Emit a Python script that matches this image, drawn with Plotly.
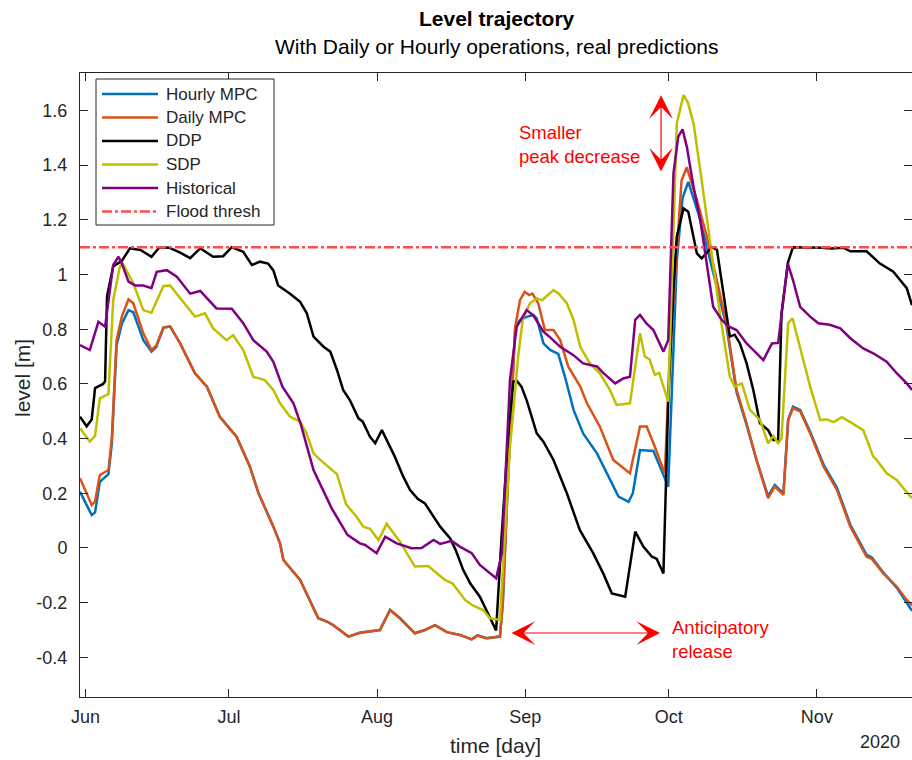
import pandas as pd
import plotly.graph_objects as go

BASE = pd.Timestamp("2020-06-01")

# ---- data: (day offset from 1 Jun 2020, level [m]) ----
hourly_days = [-1.15, 1.3, 2.0, 3.0, 4.8, 5.5, 6.5, 7.6, 9.0, 10.0, 12.1, 13.8, 14.8, 16.3, 17.7, 19.8, 22.9, 25.4, 28.1, 31.6, 34.4, 36.2, 39.3, 40.7, 41.4, 44.9, 48.7, 50.5, 51.8, 55.0, 57.4, 59.2, 61.6, 63.7, 65.8, 68.9, 71.0, 73.1, 75.6, 78.3, 80.8, 82.0, 83.9, 86.7, 87.3, 88.5, 89.9, 90.9, 92.3, 93.7, 94.4, 95.8, 97.2, 98.9, 100.3, 102.1, 104.1, 107.0, 109.7, 111.5, 113.6, 114.5, 116.0, 117.5, 118.8, 120.2, 121.9, 123.7, 124.9, 126.1, 128.2, 130.0, 132.0, 134.1, 136.2, 138.3, 140.4, 142.8, 144.2, 146.0, 147.0, 148.0, 149.5, 151.6, 154.4, 157.2, 160.0, 163.4, 164.5, 166.9, 169.7, 171.8, 172.9]
hourly_mpc = [0.206, 0.12, 0.13, 0.242, 0.27, 0.38, 0.74, 0.82, 0.87, 0.862, 0.76, 0.718, 0.735, 0.805, 0.81, 0.748, 0.639, 0.59, 0.48, 0.407, 0.297, 0.20, 0.078, 0.017, -0.044, -0.117, -0.257, -0.269, -0.282, -0.324, -0.31, -0.306, -0.30, -0.227, -0.257, -0.312, -0.30, -0.282, -0.308, -0.318, -0.334, -0.32, -0.33, -0.324, -0.2, 0.3, 0.809, 0.834, 0.845, 0.852, 0.84, 0.748, 0.724, 0.71, 0.626, 0.505, 0.419, 0.346, 0.249, 0.188, 0.169, 0.20, 0.358, 0.355, 0.355, 0.297, 0.224, 1.05, 1.28, 1.339, 1.224, 1.10, 0.955, 0.81, 0.57, 0.45, 0.32, 0.19, 0.23, 0.20, 0.47, 0.517, 0.505, 0.425, 0.305, 0.22, 0.085, -0.025, -0.035, -0.09, -0.145, -0.20, -0.23]

daily_days = [-1.15, 1.3, 2.0, 3.0, 4.8, 5.5, 6.5, 7.6, 9.0, 10.0, 12.1, 13.8, 14.8, 16.3, 17.7, 19.8, 22.9, 25.4, 28.1, 31.6, 34.4, 36.2, 39.3, 40.7, 41.4, 44.9, 48.7, 50.5, 51.8, 55.0, 57.4, 59.2, 61.6, 63.7, 65.8, 68.9, 71.0, 73.1, 75.6, 78.3, 80.8, 82.0, 83.9, 86.7, 87.3, 88.5, 89.9, 90.9, 91.9, 92.8, 93.5, 94.7, 96.1, 97.9, 99.3, 101.0, 103.5, 104.9, 107.6, 110.4, 112.5, 113.9, 116.0, 117.4, 119.1, 121.2, 122.2, 123.7, 124.7, 125.8, 127.9, 130.0, 132.0, 134.1, 136.2, 138.3, 140.4, 142.8, 144.2, 146.0, 147.0, 148.0, 149.5, 151.6, 154.4, 157.2, 160.0, 163.4, 164.5, 166.9, 169.7, 171.8, 172.9]
daily_mpc = [0.255, 0.157, 0.17, 0.267, 0.285, 0.40, 0.76, 0.846, 0.909, 0.895, 0.785, 0.724, 0.74, 0.807, 0.81, 0.748, 0.639, 0.59, 0.48, 0.407, 0.297, 0.20, 0.078, 0.017, -0.044, -0.117, -0.257, -0.269, -0.282, -0.324, -0.31, -0.306, -0.30, -0.227, -0.257, -0.312, -0.30, -0.282, -0.308, -0.318, -0.334, -0.32, -0.33, -0.324, -0.2, 0.3, 0.809, 0.907, 0.937, 0.925, 0.93, 0.895, 0.797, 0.797, 0.76, 0.663, 0.59, 0.529, 0.444, 0.322, 0.291, 0.273, 0.444, 0.444, 0.37, 0.273, 0.70, 1.10, 1.345, 1.392, 1.272, 1.138, 0.98, 0.822, 0.578, 0.456, 0.32, 0.182, 0.224, 0.194, 0.468, 0.511, 0.50, 0.419, 0.297, 0.212, 0.078, -0.032, -0.04, -0.093, -0.141, -0.19, -0.21]

ddp_days = [-1.15, 0.25, 1.3, 2.0, 3.7, 4.1, 4.5, 5.8, 7.6, 9.3, 11.5, 13.8, 15.5, 17.5, 19.8, 21.9, 24.0, 26.7, 28.8, 30.6, 33.0, 34.8, 36.5, 38.2, 39.3, 40.3, 42.8, 44.9, 46.3, 47.7, 49.8, 51.2, 52.6, 53.9, 55.3, 57.1, 58.0, 59.5, 60.6, 62.0, 64.7, 66.5, 67.9, 69.5, 71.0, 72.5, 74.2, 76.3, 77.5, 79.0, 80.5, 82.5, 84.5, 85.9, 87.0, 88.6, 89.5, 90.2, 91.2, 92.3, 94.4, 95.8, 97.9, 100.7, 103.4, 106.2, 108.3, 110.1, 112.9, 115.0, 116.7, 118.5, 119.5, 120.9, 121.9, 123.0, 123.7, 125.1, 126.1, 127.9, 128.9, 129.9, 131.0, 132.1, 133.5, 134.8, 135.8, 136.9, 138.3, 139.7, 141.1, 142.8, 143.9, 144.9, 145.6, 147.0, 148.0, 151.0, 154.0, 156.0, 158.5, 160.0, 163.4, 166.2, 169.0, 170.4, 171.8, 172.9]
ddp = [0.48, 0.445, 0.47, 0.585, 0.60, 0.61, 0.92, 1.03, 1.05, 1.096, 1.09, 1.065, 1.10, 1.098, 1.08, 1.06, 1.096, 1.065, 1.067, 1.10, 1.083, 1.035, 1.047, 1.04, 1.015, 0.96, 0.93, 0.90, 0.858, 0.773, 0.736, 0.718, 0.651, 0.578, 0.541, 0.474, 0.462, 0.407, 0.383, 0.431, 0.334, 0.26, 0.212, 0.18, 0.163, 0.125, 0.078, 0.035, -0.01, -0.08, -0.13, -0.178, -0.25, -0.302, 0.03, 0.45, 0.608, 0.612, 0.59, 0.54, 0.419, 0.389, 0.322, 0.20, 0.066, -0.019, -0.093, -0.166, -0.178, 0.06, 0.005, -0.032, -0.04, -0.093, 0.529, 0.95, 1.138, 1.242, 1.23, 1.077, 1.059, 1.077, 1.10, 1.09, 0.92, 0.773, 0.78, 0.748, 0.675, 0.578, 0.456, 0.431, 0.395, 0.395, 0.858, 1.047, 1.10, 1.10, 1.098, 1.095, 1.098, 1.085, 1.085, 1.04, 1.01, 0.98, 0.95, 0.888]

sdp_days = [-1.15, 0.9, 2.0, 3.0, 4.8, 5.8, 7.2, 7.8, 10.0, 12.1, 13.8, 14.8, 16.3, 17.7, 19.8, 22.9, 25.0, 26.7, 29.5, 30.9, 33.0, 35.1, 37.5, 39.3, 40.7, 42.8, 44.9, 46.2, 47.7, 49.1, 52.6, 54.5, 56.7, 58.1, 59.5, 61.3, 63.0, 65.8, 68.9, 71.7, 75.2, 76.8, 79.4, 81.0, 83.2, 84.6, 86.7, 88.8, 89.5, 90.5, 91.5, 93.0, 94.4, 95.5, 97.9, 99.0, 100.7, 102.1, 103.5, 105.5, 107.6, 109.7, 111.1, 113.9, 116.0, 117.0, 118.0, 119.1, 120.0, 121.9, 123.7, 125.1, 126.0, 127.2, 128.9, 130.6, 132.7, 134.8, 135.8, 137.3, 139.0, 141.1, 142.8, 143.9, 144.9, 145.6, 147.0, 147.9, 149.5, 151.6, 153.7, 155.1, 156.5, 158.2, 160.0, 162.7, 164.8, 165.5, 167.6, 169.7, 171.4, 172.9]
sdp = [0.438, 0.389, 0.41, 0.547, 0.563, 0.907, 1.029, 1.04, 0.968, 0.87, 0.86, 0.90, 0.958, 0.96, 0.913, 0.846, 0.858, 0.803, 0.76, 0.778, 0.724, 0.626, 0.614, 0.578, 0.529, 0.48, 0.462, 0.42, 0.346, 0.322, 0.27, 0.16, 0.114, 0.078, 0.07, 0.029, 0.088, 0.023, -0.068, -0.066, -0.117, -0.13, -0.19, -0.21, -0.227, -0.257, -0.263, 0.37, 0.50, 0.70, 0.84, 0.895, 0.913, 0.906, 0.943, 0.93, 0.895, 0.834, 0.736, 0.675, 0.639, 0.578, 0.523, 0.529, 0.785, 0.70, 0.69, 0.633, 0.64, 0.535, 1.553, 1.656, 1.63, 1.553, 1.345, 1.126, 0.858, 0.626, 0.59, 0.602, 0.505, 0.468, 0.383, 0.41, 0.383, 0.40, 0.822, 0.84, 0.736, 0.59, 0.468, 0.47, 0.46, 0.478, 0.46, 0.431, 0.334, 0.322, 0.273, 0.249, 0.212, 0.182]

hist_days = [-1.15, 0.9, 2.7, 4.1, 5.8, 6.9, 7.6, 9.0, 10.4, 12.1, 13.8, 14.9, 17.0, 19.1, 21.9, 24.0, 27.4, 30.6, 33.0, 35.1, 37.9, 39.3, 41.2, 43.5, 45.0, 47.7, 51.5, 54.8, 57.4, 58.5, 60.9, 62.7, 65.1, 68.2, 70.3, 72.8, 74.2, 76.6, 78.3, 80.8, 82.5, 85.9, 87.1, 88.8, 90.2, 92.3, 93.7, 95.8, 97.2, 99.3, 102.0, 104.1, 107.0, 108.3, 110.8, 112.5, 113.9, 115.0, 116.0, 117.4, 118.8, 120.9, 121.9, 123.0, 124.0, 124.9, 125.8, 127.2, 128.6, 130.0, 131.3, 133.1, 134.5, 136.2, 138.3, 140.4, 141.8, 143.6, 144.9, 146.9, 148.0, 149.5, 151.6, 153.3, 155.7, 157.9, 160.0, 162.7, 164.8, 167.6, 169.7, 171.8, 172.9]
historical = [0.742, 0.724, 0.827, 0.809, 1.035, 1.065, 1.04, 0.974, 0.96, 0.96, 0.95, 1.01, 1.016, 0.992, 0.93, 0.94, 0.876, 0.875, 0.822, 0.76, 0.718, 0.681, 0.59, 0.529, 0.455, 0.285, 0.145, 0.048, 0.017, 0.011, -0.019, 0.041, 0.017, -0.001, 0.0, 0.029, 0.015, 0.026, 0.005, -0.019, -0.062, -0.111, -0.02, 0.614, 0.809, 0.87, 0.85, 0.791, 0.77, 0.736, 0.706, 0.675, 0.664, 0.64, 0.602, 0.62, 0.626, 0.834, 0.852, 0.82, 0.797, 0.718, 0.76, 1.37, 1.504, 1.531, 1.467, 1.321, 1.2, 1.041, 0.882, 0.834, 0.81, 0.797, 0.748, 0.712, 0.687, 0.748, 0.75, 1.041, 0.98, 0.882, 0.846, 0.822, 0.816, 0.803, 0.767, 0.73, 0.712, 0.681, 0.639, 0.602, 0.578]

flood_days = [-1.15, 172.9]
flood_thresh = [1.10, 1.10]

series_names = ["Hourly MPC", "Daily MPC", "DDP", "SDP", "Historical", "Flood thresh"]
month_ticks = ["2020-06-01", "2020-07-01", "2020-08-01", "2020-09-01", "2020-10-01", "2020-11-01"]
month_labels = ["Jun", "Jul", "Aug", "Sep", "Oct", "Nov"]
y_ticks = [-0.4, -0.2, 0, 0.2, 0.4, 0.6, 0.8, 1.0, 1.2, 1.4, 1.6]
y_labels = ["-0.4", "-0.2", "0", "0.2", "0.4", "0.6", "0.8", "1", "1.2", "1.4", "1.6"]


def to_dates(days):
    return BASE + pd.to_timedelta(days, unit="D")


FONT = "Liberation Sans, Arial, Helvetica, sans-serif"
AX = "#262626"
colors = ["#0072BD", "#D95319", "#000000", "#BFBF00", "#800080", "#FF4D4D"]
dashes = ["solid"] * 5 + ["10px,3px,3px,3px"]
all_days = [hourly_days, daily_days, ddp_days, sdp_days, hist_days, flood_days]
all_vals = [hourly_mpc, daily_mpc, ddp, sdp, historical, flood_thresh]

fig = go.Figure()
for name, d, v, c, dash in zip(series_names, all_days, all_vals, colors, dashes):
    fig.add_trace(go.Scatter(x=to_dates(d), y=v, mode="lines", name=name, showlegend=False,
                             line=dict(color=c, width=2.5, dash=dash)))

xr = [to_dates([-1.15])[0], to_dates([172.9])[0]]

# plot area in pixels: left 80, right 912, top 73, bottom 697
L, R, T, B = 80, 912, 73, 697


def px(x):
    return (x - L) / (R - L)


def py(y):
    return (B - y) / (B - T)


fig.update_layout(
    width=912, height=760,
    margin=dict(l=L, r=912 - R, t=T, b=760 - B),
    paper_bgcolor="white", plot_bgcolor="white",
    font=dict(family=FONT, size=18, color=AX),
    showlegend=False,
    xaxis=dict(type="date", range=xr, tickvals=month_ticks, ticktext=month_labels,
               ticks="inside", ticklen=8, tickcolor=AX, showline=True, linecolor=AX,
               linewidth=1, mirror="ticks", showgrid=False, zeroline=False,
               ticklabelstandoff=3, tickfont=dict(size=18, color=AX)),
    yaxis=dict(range=[-0.545, 1.737], tickvals=y_ticks, ticktext=y_labels,
               ticks="inside", ticklen=8, tickcolor=AX, showline=True, linecolor=AX,
               linewidth=1, mirror="ticks", showgrid=False, zeroline=False,
               ticklabelstandoff=8, tickfont=dict(size=18, color=AX)),
)

ann = [
    dict(text="<b>Level trajectory</b>", x=px(497), y=py(18), font=dict(size=21, color="#000000")),
    dict(text="With Daily or Hourly operations, real predictions", x=px(497), y=py(47),
         font=dict(size=21, color="#000000")),
    dict(text="time [day]", x=px(495), y=py(745), font=dict(size=21, color=AX)),
    dict(text="2020", x=px(880), y=py(742), font=dict(size=18, color=AX)),
    dict(text="level [m]", x=px(22), y=py(378), textangle=-90, font=dict(size=21, color=AX)),
]
for a in ann:
    a.update(xref="paper", yref="paper", xanchor="center", yanchor="middle", showarrow=False)

ann += [
    dict(text="Smaller<br>peak decrease", x=to_dates([90.3])[0], y=1.477, xref="x", yref="y",
         xanchor="left", yanchor="middle", align="left", showarrow=False,
         font=dict(size=18.5, color="#FF0000")),
    dict(text="Anticipatory<br>release", x=to_dates([122.3])[0], y=-0.336, xref="x", yref="y",
         xanchor="left", yanchor="middle", align="left", showarrow=False,
         font=dict(size=18.5, color="#FF0000")),
    dict(text="", x=to_dates([120.4])[0], y=1.656, ax=to_dates([120.4])[0], ay=1.371,
         xref="x", yref="y", axref="x", ayref="y", showarrow=True,
         arrowhead=3, startarrowhead=3, arrowside="end+start", arrowsize=3.3,
         startarrowsize=3.3, arrowwidth=1.2, arrowcolor="#FF0000"),
    dict(text="", x=to_dates([120.2])[0], y=-0.311, ax=to_dates([88.8])[0], ay=-0.311,
         xref="x", yref="y", axref="x", ayref="y", showarrow=True,
         arrowhead=3, startarrowhead=3, arrowside="end+start", arrowsize=3.3,
         startarrowsize=3.3, arrowwidth=1.2, arrowcolor="#FF0000"),
]

# legend box drawn like the original (box, sample lines, labels)
shapes = [dict(type="rect", xref="paper", yref="paper", x0=px(96), x1=px(274), y0=py(225), y1=py(79),
               line=dict(color=AX, width=1), fillcolor="white", layer="above")]
row_y = [94, 117.5, 141, 164.5, 188, 211.5]
for name, c, dash, ry in zip(series_names, colors, dashes, row_y):
    shapes.append(dict(type="line", xref="paper", yref="paper", x0=px(102), x1=px(158),
                       y0=py(ry), y1=py(ry), layer="above",
                       line=dict(color=c, width=2.5, dash=dash)))
    ann.append(dict(text=name, xref="paper", yref="paper", x=px(164), y=py(ry),
                    xanchor="left", yanchor="middle", showarrow=False,
                    font=dict(size=17, color=AX)))

fig.update_layout(annotations=ann, shapes=shapes)

fig.write_html("out.html")
